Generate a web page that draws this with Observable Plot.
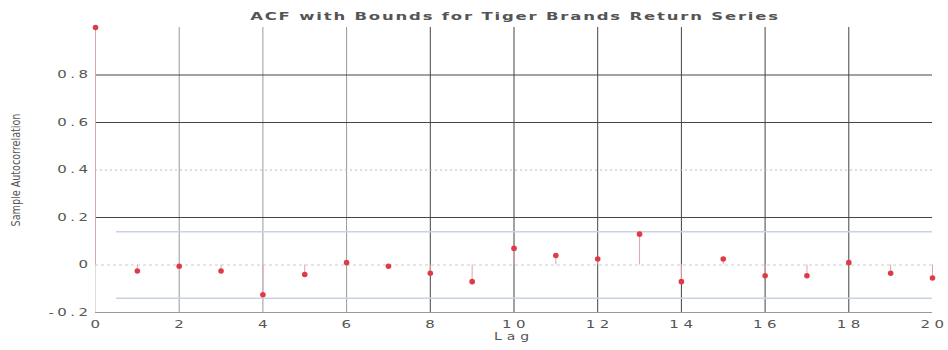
<!DOCTYPE html>
<html>
<head>
<meta charset="utf-8">
<script src="https://cdn.jsdelivr.net/npm/d3@7"></script>
<script src="https://cdn.jsdelivr.net/npm/@observablehq/plot@0.6"></script>
<style>
  html, body { margin: 0; padding: 0; background: #fff; }
  #chart svg { display: block; }
  #chart g[aria-label="x-axis tick label"] text { letter-spacing: 3px; }
  #chart g[aria-label="y-axis tick label"] text { letter-spacing: 2.3px; }
  #chart g.chart-title text { letter-spacing: 1.2px; }
  #chart g.chart-xlabel text { letter-spacing: 3.5px; }
</style>
</head>
<body>
<div id="chart"></div>
<script>
// Sample autocorrelation of the Tiger Brands return series, lags 0..20
const lags = [0, 1, 2, 3, 4, 5, 6, 7, 8, 9, 10, 11, 12, 13, 14, 15, 16, 17, 18, 19, 20];
const acf = [1.0, -0.025, -0.005, -0.025, -0.125, -0.04, 0.01, -0.005, -0.035, -0.07,
             0.07, 0.04, 0.025, 0.13, -0.07, 0.025, -0.045, -0.045, 0.01, -0.035, -0.055];
// approximate 95% confidence bounds
const bound = 0.14;
const boundStart = 0.5;
const boundEnd = 20;

const xTicks = [0, 2, 4, 6, 8, 10, 12, 14, 16, 18, 20];
const yTicks = [-0.2, 0, 0.2, 0.4, 0.6, 0.8];
const xGridStrong = [8, 10, 12, 14, 16, 18];
const xGridLight = [2, 4, 6];
const yGridStrong = [0.2, 0.6, 0.8];
const yGridLight = [0.4];

const titleText = "ACF with Bounds for Tiger Brands Return Series";
const xLabel = "Lag";
const yLabel = "Sample Autocorrelation";

const table = lags.map((lag, i) => ({lag, value: acf[i]}));
const bounds = [bound, -bound];

const fontFamily = "'DejaVu Sans', Verdana, sans-serif";
const fmt = d => d === 0 ? "0" : d.toFixed(1);

const chart = Plot.plot({
  width: 948,
  height: 350,
  marginLeft: 95,
  marginRight: 16,
  marginTop: 27,
  marginBottom: 38,
  style: {fontFamily, color: "#555", background: "#fff"},
  x: {domain: [0, 20]},
  y: {domain: [-0.2, 1]},
  marks: [
    // grid
    Plot.ruleX(xGridLight, {y1: -0.2, y2: 1, stroke: "#999", strokeWidth: 1}),
    Plot.ruleX(xGridStrong, {y1: -0.2, y2: 1, stroke: "#444", strokeWidth: 1}),
    Plot.ruleY(yGridLight, {x1: 0, x2: 20, stroke: "#bbb", strokeDasharray: "2,3"}),
    Plot.ruleY(yGridStrong, {x1: 0, x2: 20, stroke: "#444", strokeWidth: 1}),
    // axes lines
    Plot.ruleY([-0.2], {x1: 0, x2: 20, stroke: "#999"}),
    Plot.ruleX([0], {y1: -0.2, y2: 1, stroke: "#ddd"}),
    Plot.ruleY([0], {x1: 0, x2: 20, stroke: "#ccc", strokeDasharray: "3,3"}),
    // confidence bounds
    Plot.ruleY(bounds, {x1: boundStart, x2: boundEnd, stroke: "#c9d2e4", strokeWidth: 1.5}),
    // stems and markers
    Plot.ruleX(table, {x: "lag", y1: 0, y2: "value", stroke: "#d9a8ac", strokeWidth: 1}),
    Plot.dot(table, {x: "lag", y: "value", r: 2.8, fill: "#e03a48", stroke: "none"}),
    // axes
    Plot.axisX(xTicks, {tickSize: 0, tickPadding: 8, tickFormat: d => String(d), fontSize: 10,
                        fill: "#555", label: null, dx: 2}),
    Plot.axisY(yTicks, {tickSize: 0, tickPadding: 4, tickFormat: fmt, fontSize: 10,
                        fill: "#555", label: null}),
    // title and axis labels
    Plot.text([titleText], {frameAnchor: "top", dy: -15, dx: 1, fontSize: 11, fontWeight: "bold",
                            fill: "#555", className: "chart-title"}),
    Plot.text([xLabel], {frameAnchor: "bottom", dy: 27, dx: 0, fontSize: 10, fill: "#555",
                         className: "chart-xlabel"}),
    Plot.text([yLabel], {frameAnchor: "left", dx: -79, rotate: -90, textAnchor: "middle",
                         fontSize: 12, fill: "#555", className: "chart-ylabel"})
  ]
});

// widen or narrow glyphs along the reading direction, about each text's anchor point
function stretch(selector, s) {
  chart.querySelectorAll(selector).forEach(t => {
    const x = parseFloat(t.getAttribute("x")) || 0;
    const y = parseFloat(t.getAttribute("y")) || 0;
    const tr = t.getAttribute("transform") || "";
    t.setAttribute("transform", `${tr} translate(${x},${y}) scale(${s},1) translate(${-x},${-y})`);
  });
}
stretch('g[aria-label="x-axis tick label"] text', 1.5);
stretch('g[aria-label="y-axis tick label"] text', 1.5);
stretch("g.chart-title text", 1.5);
stretch("g.chart-xlabel text", 1.4);
stretch("g.chart-ylabel text", 0.8);

document.getElementById("chart").appendChild(chart);
</script>
</body>
</html>
